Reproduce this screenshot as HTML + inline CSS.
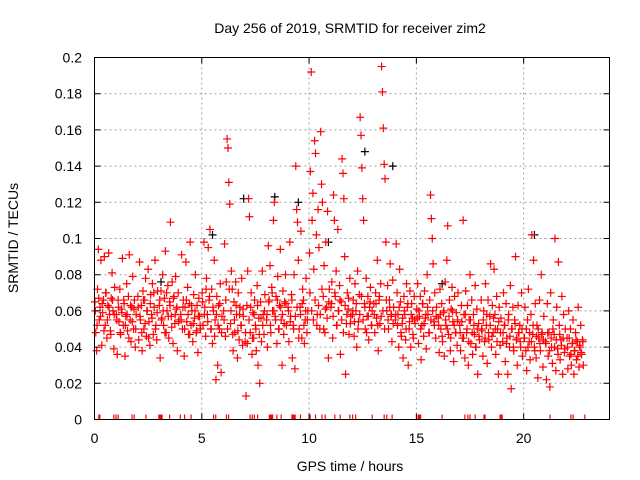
<!DOCTYPE html>
<html><head><meta charset="utf-8"><style>
html,body{margin:0;padding:0;background:#fff;}
svg{display:block;font-family:"Liberation Sans",sans-serif;}
</style></head><body>
<svg id="chart" width="640" height="480" viewBox="0 0 640 480" xmlns="http://www.w3.org/2000/svg">
<rect width="640" height="480" fill="#fff"/>
<text x="350" y="33" text-anchor="middle" font-size="14" fill="#000">Day 256 of 2019, SRMTID for receiver zim2</text>
<text x="350" y="471" text-anchor="middle" font-size="14" fill="#000">GPS time / hours</text>
<text transform="translate(18,238) rotate(-90)" text-anchor="middle" font-size="14" fill="#000">SRMTID / TECUs</text>
<g id="grid"></g>
<g id="marks"></g>
<g id="axes"></g>
</svg>
<script>
const xTicks=[0,5,10,15,20];
const yTicks=[0,0.02,0.04,0.06,0.08,0.1,0.12,0.14,0.16,0.18,0.2];
const yTickLabels=["0","0.02","0.04","0.06","0.08","0.1","0.12","0.14","0.16","0.18","0.2"];
const hourStarts=[0,1,2,3,4,5,6,7,8,9,10,11,12,13,14,15,16,17,18,19,20,21,22];
const sampleOffsets=[0.02,0.06,0.10,0.14,0.18,0.22,0.26,0.30,0.34,0.38,0.42,0.46,0.50,0.54,0.58,0.62,0.66,0.70,0.74,0.78,0.82,0.86,0.90,0.94];
const coreOffsets=[0.04,0.12,0.20,0.28,0.36,0.44,0.52,0.60,0.68,0.76,0.84,0.92];
const srmtidByHour=[
[.065,.048,.038,.072,.094,.055,.062,.088,.041,.059,.066,.090,.052,.070,.045,.063,.092,.058,.049,.067,.081,.060,.039,.073],
[.058,.036,.066,.054,.072,.047,.061,.089,.052,.064,.035,.057,.075,.049,.068,.091,.055,.043,.062,.079,.050,.066,.040,.058],
[.068,.044,.087,.055,.063,.038,.071,.050,.066,.078,.046,.060,.083,.054,.041,.069,.058,.075,.047,.062,.088,.052,.044,.071],
[.063,.034,.071,.056,.080,.052,.067,.093,.048,.060,.074,.045,.065,.109,.057,.076,.042,.068,.053,.079,.061,.038,.070,.055],
[.058,.091,.050,.066,.035,.062,.087,.054,.073,.047,.064,.098,.052,.060,.043,.069,.056,.080,.048,.063,.037,.067,.057,.050],
[.070,.052,.098,.062,.046,.078,.058,.095,.066,.105,.050,.072,.042,.060,.088,.055,.022,.068,.030,.063,.050,.075,.026,.057],
[.060,.097,.046,.076,.155,.150,.131,.119,.053,.082,.072,.038,.065,.048,.076,.058,.034,.070,.044,.062,.052,.078,.041,.057],
[.043,.013,.063,.082,.122,.112,.048,.070,.036,.059,.045,.066,.052,.038,.074,.030,.056,.020,.065,.043,.082,.058,.047,.069],
[.055,.040,.096,.066,.085,.048,.073,.060,.110,.120,.057,.068,.042,.079,.050,.063,.094,.055,.030,.071,.047,.065,.080,.052],
[.062,.043,.098,.057,.069,.034,.052,.080,.028,.140,.116,.109,.088,.050,.062,.104,.045,.072,.066,.042,.055,.078,.048,.060],
[.092,.137,.192,.110,.125,.083,.154,.147,.102,.058,.116,.095,.050,.159,.130,.120,.068,.085,.048,.098,.062,.115,.034,.072],
[.062,.076,.045,.124,.110,.068,.082,.052,.105,.060,.074,.036,.065,.144,.136,.122,.090,.025,.053,.070,.061,.047,.078,.057],
[.058,.066,.046,.075,.060,.040,.082,.054,.069,.167,.157,.139,.122,.110,.064,.050,.078,.057,.068,.044,.062,.073,.052,.060],
[.064,.048,.070,.056,.088,.038,.066,.053,.075,.195,.181,.161,.141,.133,.098,.060,.074,.050,.066,.086,.057,.043,.077,.062],
[.055,.097,.070,.058,.040,.083,.065,.046,.053,.034,.068,.058,.044,.075,.062,.030,.050,.071,.040,.064,.056,.045,.068,.053],
[.061,.075,.042,.057,.068,.033,.052,.064,.046,.071,.056,.039,.080,.058,.048,.066,.124,.111,.100,.086,.054,.070,.045,.062],
[.056,.037,.072,.050,.064,.043,.059,.035,.076,.052,.088,.107,.047,.066,.038,.061,.073,.054,.032,.068,.048,.059,.041,.070],
[.052,.038,.063,.045,.110,.058,.034,.071,.048,.063,.030,.055,.080,.042,.066,.036,.058,.047,.074,.040,.061,.025,.053,.044],
[.066,.049,.035,.060,.043,.075,.052,.031,.066,.044,.057,.086,.040,.063,.048,.083,.058,.036,.068,.050,.025,.062,.041,.056],
[.043,.070,.052,.032,.064,.045,.025,.058,.040,.074,.017,.050,.062,.038,.055,.090,.044,.030,.063,.048,.052,.040,.070,.035],
[.045,.062,.038,.027,.055,.072,.043,.033,.058,.102,.047,.088,.040,.064,.034,.052,.023,.045,.066,.038,.080,.048,.029,.057],
[.043,.022,.064,.035,.048,.018,.070,.040,.031,.055,.047,.100,.027,.062,.039,.087,.052,.033,.044,.068,.025,.058,.037,.050],
[.045,.028,.060,.035,.050,.030,.042,.055,.025,.038,.048,.033,.043,.062,.029,.040,.052,.036,.044,.030]
];
const coreByHour=[
[.060,.052,.067,.057,.064,.049,.070,.055,.062,.047,.066,.058],
[.055,.062,.048,.059,.066,.052,.058,.045,.063,.054,.061,.050],
[.062,.057,.048,.066,.053,.060,.045,.064,.056,.070,.050,.059],
[.066,.055,.060,.048,.070,.057,.063,.051,.067,.058,.062,.054],
[.055,.062,.050,.066,.058,.047,.063,.053,.060,.049,.057,.052],
[.065,.058,.072,.054,.068,.050,.062,.046,.058,.052,.064,.048],
[.055,.066,.050,.072,.060,.047,.055,.063,.049,.058,.052,.061],
[.048,.042,.055,.062,.045,.058,.050,.063,.047,.056,.052,.060],
[.058,.065,.052,.070,.060,.055,.066,.050,.062,.058,.053,.064],
[.060,.054,.066,.050,.057,.062,.045,.058,.064,.052,.060,.055],
[.070,.060,.055,.066,.052,.063,.058,.072,.050,.061,.056,.065],
[.064,.057,.070,.052,.060,.066,.055,.048,.063,.058,.067,.053],
[.060,.054,.064,.050,.058,.068,.055,.062,.048,.057,.065,.052],
[.058,.064,.052,.068,.057,.060,.050,.066,.055,.062,.058,.053],
[.058,.052,.062,.048,.056,.060,.050,.064,.054,.058,.047,.055],
[.056,.060,.050,.064,.053,.058,.062,.048,.055,.060,.052,.057],
[.052,.058,.046,.060,.055,.050,.057,.045,.060,.052,.048,.055],
[.048,.054,.045,.058,.050,.043,.055,.048,.052,.040,.050,.046],
[.050,.055,.045,.058,.048,.052,.046,.056,.050,.043,.054,.048],
[.048,.052,.042,.055,.046,.050,.040,.053,.045,.048,.043,.050],
[.045,.050,.040,.048,.043,.052,.038,.046,.050,.042,.047,.044],
[.042,.048,.038,.045,.050,.040,.044,.036,.047,.041,.045,.039],
[.040,.045,.036,.042,.038,.044,.035,.041,.037,.043]
];
const blackTimes=[3.1,5.5,6.95,8.4,9.5,10.9,12.6,13.9,16.2,20.5];
const blackValues=[0.076,0.102,0.122,0.123,0.12,0.098,0.148,0.14,0.075,0.102];
const zeroTimes=[0.2,0.25,0.9,1.0,1.1,1.75,1.85,2.4,3.0,3.05,3.1,3.15,3.5,4.0,4.2,4.5,5.55,5.65,6.15,6.25,7.25,7.35,7.45,7.6,8.15,8.2,8.25,8.3,8.5,8.7,9.2,9.25,9.3,9.35,9.6,10.05,10.3,10.6,10.75,11.2,11.45,11.9,12.03,12.17,12.94,13.5,13.62,13.87,15.08,15.12,15.16,15.2,16.2,17.26,17.4,17.5,17.74,18.15,18.2,18.9,18.95,19.0,21.23,22.2,22.3,22.85];

const L=94.5,R=609.5,T=57.5,B=419.5,XMAX=24,YMAX=0.2;
function xs(v){return L+(R-L)*v/XMAX;}
function ys(v){return B-(B-T)*v/YMAX;}
const NS="http://www.w3.org/2000/svg";
function mk(tag,attrs,parent){const e=document.createElementNS(NS,tag);for(const k in attrs)e.setAttribute(k,attrs[k]);parent.appendChild(e);return e;}
const grid=document.getElementById('grid'),marks=document.getElementById('marks'),axes=document.getElementById('axes');
xTicks.forEach((t,i)=>{const x=xs(t);
 if(i>0){const g=mk('line',{x1:x,x2:x,y1:T,y2:B,stroke:'#a0a0a0','stroke-dasharray':'2,3','stroke-width':1},grid);
 
 }
 const tk=mk('path',{d:`M${x},${B}v-6M${x},${T}v6`,stroke:'#000','stroke-width':1},axes);
 
 
 const lb=mk('text',{x:x,y:443,'text-anchor':'middle','font-size':14,fill:'#000'},axes);lb.textContent=String(t);
 
 
});
yTicks.forEach((t,i)=>{const y=ys(t);
 if(i>0&&i<yTicks.length-1){const g=mk('line',{x1:L,x2:R,y1:y,y2:y,stroke:'#a0a0a0','stroke-dasharray':'2,3','stroke-width':1},grid);
 
 }
 const tk=mk('path',{d:`M${L},${y}h6M${R},${y}h-6`,stroke:'#000','stroke-width':1},axes);
 
 
 const lb=mk('text',{x:82,y:y+5,'text-anchor':'end','font-size':14,fill:'#000'},axes);lb.textContent=yTickLabels[i];
 
 
});
const frame=mk('rect',{x:L,y:T,width:R-L,height:B-T,fill:'none',stroke:'#000','stroke-width':1},axes);


function plus(t,v,color,name){const x=xs(t),y=ys(v);
 const p=mk('path',{d:`M${x-4},${y}h8M${x},${y-4}v8`,stroke:color,'stroke-width':1.2,fill:'none'},marks);
 
 }
blackTimes.forEach((t,i)=>plus(t,blackValues[i],'#000','black-point'));
coreByHour.forEach((vals,h)=>vals.forEach((v,i)=>plus(hourStarts[h]+coreOffsets[i],v,'#f00','srmtid-point')));
srmtidByHour.forEach((vals,h)=>vals.forEach((v,i)=>plus(hourStarts[h]+sampleOffsets[i],v,'#f00','srmtid-point')));
zeroTimes.forEach(t=>{const x=xs(t);
 const p=mk('path',{d:`M${x},${B-5}V${B}`,stroke:'#f00','stroke-width':1.2},marks);
 
 });
</script>
</body></html>
